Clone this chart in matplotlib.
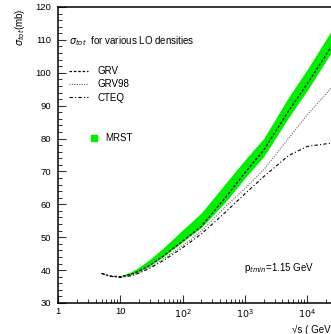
import matplotlib
matplotlib.use("Agg")
import matplotlib.pyplot as plt
from matplotlib.lines import Line2D

plt.rcParams['font.family'] = ['Liberation Sans', 'DejaVu Sans']
plt.rcParams['mathtext.fontset'] = 'dejavusans'

# sqrt(s) in GeV and sigma_tot in mb
energy = [5, 6, 7, 10, 15, 20, 30, 50, 100, 200, 500, 1000, 2000, 5000, 10000, 24100]
grv = [39.0, 38.5, 38.2, 38.0, 38.8, 39.7, 41.5, 44.4, 48.8, 53.3, 62.3, 69.6, 76.5, 88.3, 96.6, 107.8]
grv98 = [39.0, 38.5, 38.1, 37.8, 38.4, 39.3, 40.9, 43.5, 47.4, 51.8, 59.5, 64.8, 70.5, 80.0, 87.2, 95.3]
cteq = [39.0, 38.5, 38.1, 37.8, 38.3, 39.1, 40.6, 43.0, 46.8, 51.0, 57.8, 63.2, 68.4, 74.8, 77.6, 78.6]

# MRST band
band_energy = [10, 15, 20, 30, 50, 100, 200, 500, 1000, 2000, 5000, 10000, 24100]
mrst_lo = [38.0, 38.7, 39.6, 41.4, 44.2, 48.6, 53.0, 61.0, 68.0, 74.5, 86.3, 94.6, 106.0]
mrst_hi = [38.2, 39.5, 40.9, 43.3, 46.9, 52.2, 57.4, 66.6, 73.5, 80.0, 92.5, 101.0, 112.6]

xticks = [1, 10, 100, 1000, 10000]
xticklabels = ['1', '10', '$10^{2}$', '$10^{3}$', '$10^{4}$']

fig = plt.figure(figsize=(3.31, 3.34), dpi=100)
ax = fig.add_axes([58 / 331, 31 / 334, 273 / 331, 296 / 334])

green = '#00ee00'
ax.fill_between(band_energy, mrst_lo, mrst_hi, color=green, lw=0)
ax.plot(energy, grv, color='black', lw=0.9, ls=(0, (2, 1.5)))
ax.plot(energy, grv98, color='#666666', lw=0.8, ls=(0, (1, 1.2)))
ax.plot(energy, cteq, color='black', lw=0.8, ls=(0, (3, 2, 1, 2)))

ax.set_xscale('log')
ax.set_xlim(1, 24100)
ax.set_ylim(30, 120)
ax.set_xticks(xticks)
ax.set_xticklabels(xticklabels)
ax.set_yticks(range(30, 121, 10))
ax.set_yticks(range(30, 121, 2), minor=True)

ax.spines['right'].set_visible(False)
for s in ['left', 'bottom', 'top']:
    ax.spines[s].set_linewidth(1.1)

ax.tick_params(which='both', direction='in', top=False, right=False,
               labelsize=6.8, color='#333333')
ax.tick_params(which='major', length=6, width=0.8)
ax.tick_params(which='minor', length=3, width=0.7)
ax.tick_params(axis='x', pad=3)
ax.tick_params(axis='y', pad=5)

fig.text(0.06, 0.975, r'$\sigma_{tot}$(mb)', rotation=90, ha='center', va='top', fontsize=7)
fig.text(1.0, -0.004, '√s ( GeV', ha='right', va='bottom', fontsize=7)

ax.text((69 - 58) / 273, (303 - 41) / 296, r'$\sigma_{tot}$  for various LO densities',
        transform=ax.transAxes, fontsize=7, va='center', ha='left')
ax.text((244 - 58) / 273, (303 - 268) / 296, r'p$_{tmin}$=1.15 GeV',
        transform=ax.transAxes, fontsize=7, va='center', ha='left')

line_handles = [
    Line2D([], [], color='black', lw=0.9, ls=(0, (2, 1.5))),
    Line2D([], [], color='#666666', lw=0.8, ls=(0, (1, 1.2))),
    Line2D([], [], color='black', lw=0.8, ls=(0, (3, 2, 1, 2))),
]
leg1 = ax.legend(line_handles, ['GRV', 'GRV98', 'CTEQ'], loc='upper left',
                 bbox_to_anchor=((69 - 58) / 273, (303 - 66) / 296),
                 frameon=False, fontsize=7, handlelength=2.0, handletextpad=0.9,
                 labelspacing=0.35, borderpad=0, borderaxespad=0)
ax.add_artist(leg1)

mrst_handle = Line2D([], [], color=green, marker='s', markersize=4, ls='none')
ax.legend([mrst_handle], ['MRST'], loc='upper left',
          bbox_to_anchor=((84 - 58) / 273, (303 - 133) / 296),
          frameon=False, fontsize=7, handlelength=2.0, handletextpad=0.2,
          borderpad=0, borderaxespad=0)

fig.savefig('out.png', dpi=100)
